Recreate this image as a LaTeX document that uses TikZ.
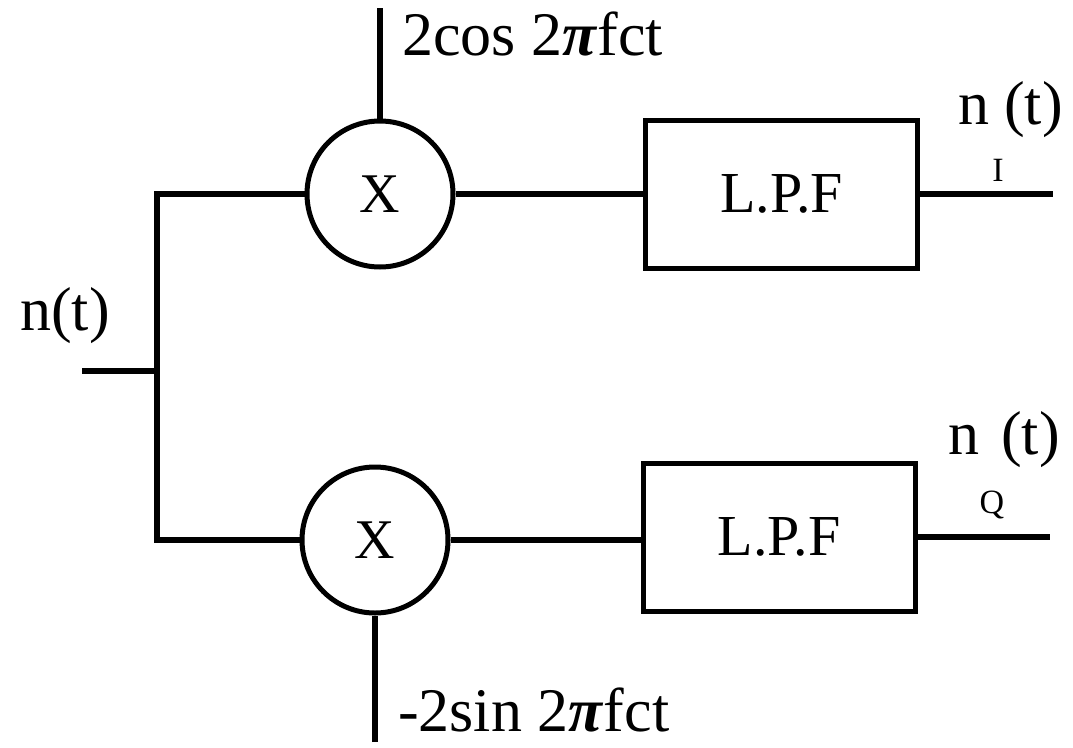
\documentclass[tikz,border=0pt]{standalone}
\usepackage{fontspec}
\setmainfont{Liberation Serif}
\begin{document}
\begin{tikzpicture}[x=1pt,y=-1pt,
  wire/.style={line width=6pt},
  mixer/.style={circle,draw,line width=5pt,minimum size=146pt,inner sep=0pt,font=\fontsize{56}{56}\selectfont},
  filt/.style={rectangle,draw,line width=5pt,minimum width=272pt,minimum height=148pt,inner sep=0pt,font=\fontsize{58}{58}\selectfont},
  lbl/.style={inner sep=0pt,anchor=base west,font=\fontsize{62}{62}\selectfont},
  sub/.style={inner sep=0pt,anchor=base,font=\fontsize{34}{34}\selectfont}]
\useasboundingbox (0,0) rectangle (1073,747);
\newcommand{\bpi}{\textbf{\textit{π}}}
% nodes
\node[mixer] (m1) at (380,194) {X};
\node[mixer] (m2) at (375,540) {X};
\node[filt] (f1) at (781.5,194) {L.P.F};
\node[filt] (f2) at (779,537) {L.P.F};
\coordinate (in) at (82,371);
\coordinate (j) at (157,371);
\coordinate (jt) at (157,194);
\coordinate (jb) at (157,540);
\coordinate (lo1) at (380,8);
\coordinate (lo2) at (375,742);
\coordinate (o1) at (1053,194);
\coordinate (o2) at (1050,537);
% wires
\draw[wire] (in) -- (j);
\draw[wire,line cap=rect] (jt) -- (jb);
\draw[wire] (jt) -- (m1.west);
\draw[wire] (jb) -- (m2.west);
\draw[wire] (lo1) -- (m1.north);
\draw[wire] (lo2) -- (m2.south);
\draw[wire] (m1.east) -- (f1.west);
\draw[wire] (m2.east) -- (m2.east -| f2.west);
\draw[wire] (f1.east) -- (o1);
\draw[wire] (f2.east) -- (o2);
% labels
\node[lbl] (t1) at (402,55) {2cos 2\bpi fct};
\node[lbl] (t2) at (398,731) {-2sin 2\bpi fct};
\node[lbl] (tin) at (20,330) {n(t)};
\node[lbl] (ni) at (958,124) {n};
\node[lbl] (nit) at (1004,124) {(t)};
\node[sub] (nis) at (998,181) {I};
\node[lbl] (nq) at (948,454) {n};
\node[lbl] (nqt) at (1001,454) {(t)};
\node[sub] (nqs) at (992,513) {Q};
\end{tikzpicture}
\end{document}
